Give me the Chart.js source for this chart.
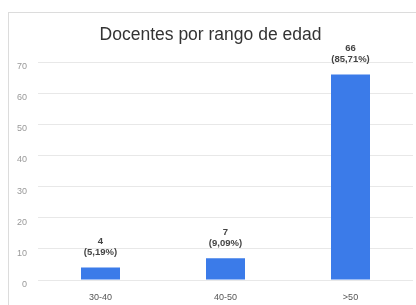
<!doctype html>
<html lang="es">

<head>
    <meta charset="UTF-8" />
    <title>Docentes por rango de edad</title>
    <script src="https://cdn.jsdelivr.net/npm/chart.js"></script>
    <style>
        html, body {
            margin: 0;
            padding: 0;
            background: #fff;
        }

        .wrap {
            position: relative;
            width: 416px;
            height: 305px;
        }

        /* thin frame at top and left, like the screenshot */
        .frame {
            position: absolute;
            left: 8px;
            top: 12px;
            right: 0;
            bottom: 0;
            border-top: 1px solid #dcdcdc;
            border-left: 1px solid #dcdcdc;
            pointer-events: none;
        }
    </style>
</head>

<body>
    <div class="wrap">
        <canvas id="myChart" width="416" height="305"></canvas>
        <div class="frame"></div>
    </div>

    <script>

        const categories = ['30-40', '40-50', '>50'];
        const docentes = [4, 7, 66];
        const yTicks = [0, 10, 20, 30, 40, 50, 60, 70];

        const total = docentes.reduce((a, b) => a + b, 0);

        function pct(v) {
            return '(' + (v / total * 100).toFixed(2).replace('.', ',') + '%)';
        }

        /* labels above each bar: value and percent */
        const barLabels = {
            id: 'barLabels',
            afterDatasetsDraw(chart) {
                const c = chart.ctx;
                const meta = chart.getDatasetMeta(0);
                c.save();
                c.fillStyle = '#444';
                c.font = 'bold 9.5px Arial, "Liberation Sans", sans-serif';
                c.textAlign = 'center';
                c.textBaseline = 'middle';
                meta.data.forEach(function (bar, i) {
                    let v = docentes[i];
                    c.fillText(String(v), bar.x, bar.y - 26);
                    c.fillText(pct(v), bar.x, bar.y - 15);
                });
                c.restore();
            }
        };

        const ctx = document.getElementById('myChart');

        new Chart(ctx, {
            type: 'bar',
            data: {
                labels: categories,
                datasets: [{
                    label: 'Docentes',
                    data: docentes,
                    backgroundColor: '#3b7be9',
                    borderWidth: 0,
                    barPercentage: 0.312,
                    categoryPercentage: 1
                }]
            },
            options: {
                responsive: false,
                animation: false,
                layout: {
                    padding: { left: 8, right: 3, top: 0, bottom: 5 }
                },
                plugins: {
                    legend: { display: false },
                    tooltip: { enabled: false },
                    title: {
                        display: true,
                        text: 'Docentes por rango de edad',
                        color: '#333',
                        font: { size: 17.5, family: 'Arial, "Liberation Sans", sans-serif', weight: 'normal' },
                        padding: { top: 25, bottom: 16 }
                    }
                },
                scales: {
                    x: {
                        grid: { display: false },
                        border: { display: false },
                        ticks: {
                            color: '#555',
                            font: { size: 9, family: 'Arial, "Liberation Sans", sans-serif' },
                            padding: 4
                        },
                        afterFit: function (s) { s.height = 20; }
                    },
                    y: {
                        min: 0,
                        max: 70,
                        afterBuildTicks: function (s) {
                            s.ticks = yTicks.map(v => ({ value: v }));
                        },
                        grid: { color: '#e8e8e8', drawTicks: false },
                        border: { display: false },
                        ticks: {
                            color: '#999',
                            font: { size: 9, family: 'Arial, "Liberation Sans", sans-serif' },
                            padding: 11,
                            align: 'start',
                            crossAlign: 'near'
                        },
                        afterFit: function (s) { s.width = 30; }
                    }
                }
            },
            plugins: [barLabels]
        });

    </script>
</body>

</html>
